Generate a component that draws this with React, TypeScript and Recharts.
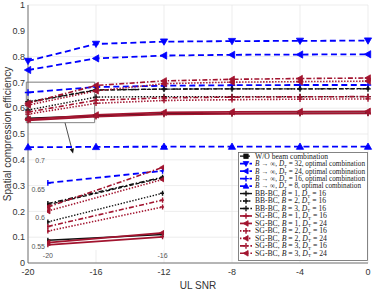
import React from 'react';
import { LineChart, Line, XAxis, YAxis, CartesianGrid, Legend, ReferenceArea, ReferenceLine } from 'recharts';

// ---------- data ----------
const snr = [-20, -16, -12, -8, -4, 0];
const snrTicks = [-20, -16, -12, -8, -4, 0];
const yTicks = [0, 0.1, 0.2, 0.3, 0.4, 0.5, 0.6, 0.7, 0.8, 0.9, 1];

const woBeam = [0.623, 0.670, 0.674, 0.675, 0.675, 0.676];
const opt32 = [0.783, 0.849, 0.858, 0.860, 0.861, 0.862];
const opt24 = [0.748, 0.793, 0.804, 0.807, 0.808, 0.809];
const opt16 = [0.661, 0.682, 0.687, 0.689, 0.690, 0.690];
const opt8 = [0.449, 0.450, 0.451, 0.451, 0.451, 0.451];
const bb1 = [0.561, 0.571, 0.579, 0.580, 0.581, 0.581];
const bb2 = [0.593, 0.643, 0.645, 0.645, 0.645, 0.645];
const bb3 = [0.625, 0.671, 0.674, 0.675, 0.675, 0.675];
const sg1d16 = [0.553, 0.567, 0.576, 0.578, 0.579, 0.580];
const sg1d24 = [0.557, 0.574, 0.584, 0.586, 0.587, 0.588];
const sg2d16 = [0.577, 0.619, 0.630, 0.633, 0.635, 0.636];
const sg2d24 = [0.612, 0.667, 0.695, 0.701, 0.703, 0.705];
const sg3d16 = [0.585, 0.631, 0.640, 0.643, 0.644, 0.645];
const sg3d24 = [0.619, 0.688, 0.706, 0.712, 0.715, 0.717];

const legendLabels = [
  'W/O beam combination',
  'B → ∞, D_T = 32, optimal combination',
  'B → ∞, D_T = 24, optimal combination',
  'B → ∞, D_T = 16, optimal combination',
  'B → ∞, D_T = 8, optimal combination',
  'BB-BC, B = 1, D_T = 16',
  'BB-BC, B = 2, D_T = 16',
  'BB-BC, B = 3, D_T = 16',
  'SG-BC, B = 1, D_T = 16',
  'SG-BC, B = 1, D_T = 24',
  'SG-BC, B = 2, D_T = 16',
  'SG-BC, B = 2, D_T = 24',
  'SG-BC, B = 3, D_T = 16',
  'SG-BC, B = 3, D_T = 24',
];
// rendered width of each legend label (px)
const legendWidths = [73, 110, 110, 110, 106, 71, 71, 71, 72, 72, 72, 72, 72, 72];

// zoom annotation (data coordinates)
const zoomX = [-20.1, -16.08];
const zoomY = [0.544, 0.701];
const arrowFrom = { x: -17.82, y: 0.543 };
const arrowTo = { x: -17.35, y: 0.424 };
const insetXDomain = [-20.03, -15.95];
const insetXTicks = [-20, -16];
const insetYTicks = [0.55, 0.6, 0.65, 0.7];

// ---------- styles ----------
const RED = '#A2142F';
const BLUE = '#0000FF';
const BLACK = '#111111';
const DASH = '6 3.5';
const DOT = '1.4 1.6';
const DASHDOT = '5 2 1.4 2';
const SERIF = "'Liberation Serif', 'DejaVu Serif', serif";
const SANS = "'Liberation Sans', Arial, sans-serif";

type Spec = {
  key: string; values: number[]; color: string; dash?: string; marker: string; width: number; ms: number;
};

const seriesValues = [woBeam, opt32, opt24, opt16, opt8, bb1, bb2, bb3, sg1d16, sg1d24, sg2d16, sg2d24, sg3d16, sg3d24];
const seriesStyle: Omit<Spec, 'key' | 'values'>[] = [
  { color: BLACK, dash: '4 2', marker: 'square', width: 1.3, ms: 1.0 },
  { color: BLUE, dash: DASH, marker: 'down', width: 1.8, ms: 3.6 },
  { color: BLUE, dash: DASH, marker: 'left', width: 1.8, ms: 3.6 },
  { color: BLUE, dash: DASH, marker: 'plus', width: 1.8, ms: 3.2 },
  { color: BLUE, dash: DASH, marker: 'up', width: 1.8, ms: 3.6 },
  { color: BLACK, marker: 'plus', width: 1.4, ms: 2.8 },
  { color: BLACK, dash: DOT, marker: 'plus', width: 1.4, ms: 2.8 },
  { color: BLACK, dash: DASHDOT, marker: 'plus', width: 1.4, ms: 2.8 },
  { color: RED, marker: 'plus', width: 1.7, ms: 2.8 },
  { color: RED, marker: 'left', width: 1.7, ms: 3.2 },
  { color: RED, dash: DOT, marker: 'plus', width: 1.6, ms: 2.8 },
  { color: RED, dash: DOT, marker: 'left', width: 1.6, ms: 3.2 },
  { color: RED, dash: DASHDOT, marker: 'plus', width: 1.6, ms: 2.8 },
  { color: RED, dash: DASHDOT, marker: 'left', width: 1.6, ms: 3.2 },
];
const series: Spec[] = seriesValues.map((v, i) => ({ key: 's' + i, values: v, ...seriesStyle[i] }));

const data = snr.map((x, i) => {
  const row: any = { snr: x };
  series.forEach((s) => { row[s.key] = s.values[i]; });
  return row;
});
const insetData = data.slice(0, 2);
const insetSeries = series.filter((s) => s.values.slice(0, 2).every((v) => v >= zoomY[0] && v <= zoomY[1]));

// ---------- markers ----------
function drawMarker(type: string, cx: number, cy: number, color: string, r: number) {
  if (type === 'plus') {
    return <path d={`M${cx - r},${cy}H${cx + r}M${cx},${cy - r}V${cy + r}`} stroke={color} strokeWidth={1.4} fill="none" />;
  }
  if (type === 'square') {
    return <rect x={cx - r} y={cy - r} width={2 * r} height={2 * r} fill={color} stroke={color} strokeWidth={0.8} />;
  }
  let pts: number[][] = [];
  if (type === 'down') pts = [[cx - r, cy - r * 0.75], [cx + r, cy - r * 0.75], [cx, cy + r]];
  if (type === 'up') pts = [[cx - r, cy + r * 0.75], [cx + r, cy + r * 0.75], [cx, cy - r]];
  if (type === 'left') pts = [[cx + r * 0.75, cy - r], [cx + r * 0.75, cy + r], [cx - r, cy]];
  return <polygon points={pts.map((p) => p.join(',')).join(' ')} fill={color} stroke={color} strokeWidth={0.8} strokeLinejoin="round" />;
}

const makeDot = (s: Spec, scale: number) => (p: any) => {
  const { cx, cy, index } = p;
  if (cx == null || cy == null) return <g key={`${s.key}-${index}`} />;
  return <g key={`${s.key}-${index}`}>{drawMarker(s.marker, cx, cy, s.color, s.ms * scale)}</g>;
};

// ---------- legend ----------
function renderLabel(str: string) {
  const parts = str.split(/(\bB\b|D_T)/).filter((p) => p !== '');
  const out: any[] = [];
  let pendingDy = 0;
  parts.forEach((p, i) => {
    if (p === 'B') {
      out.push(<tspan key={i} dy={pendingDy || undefined} fontStyle="italic">B</tspan>);
      pendingDy = 0;
    } else if (p === 'D_T') {
      out.push(<tspan key={i} dy={pendingDy || undefined} fontStyle="italic">D</tspan>);
      out.push(<tspan key={i + 's'} dy={1.6} fontSize={4.8}>T</tspan>);
      pendingDy = -1.6;
    } else {
      out.push(<tspan key={i} dy={pendingDy || undefined}>{p}</tspan>);
      pendingDy = 0;
    }
  });
  return out;
}

const LEG_W = 130;
const LEG_H = 109;
const ROW0 = 4.2;
const ROW_H = 7.47;

const LegendBox = () => (
  <svg width={LEG_W} height={LEG_H} style={{ display: 'block' }}>
    <rect x={0.5} y={0.5} width={LEG_W - 1} height={LEG_H - 1} fill="#fff" stroke="#666" strokeWidth={0.8} />
    {series.map((s, i) => {
      const cy = ROW0 + i * ROW_H;
      return (
        <g key={s.key}>
          <line x1={2} x2={14} y1={cy} y2={cy} stroke={s.color} strokeWidth={s.width} strokeDasharray={s.dash} />
          {drawMarker(s.marker, 8, cy, s.color, Math.min(Math.max(s.ms, 2.2), 2.8))}
          <text
            x={17} y={cy + 2.4} fontSize={7.4} style={{ fontFamily: SERIF }} fill="#222"
            textLength={legendWidths[i]} lengthAdjust="spacingAndGlyphs"
          >
            {renderLabel(legendLabels[i])}
          </text>
        </g>
      );
    })}
  </svg>
);

// ---------- arrow ----------
const ArrowShape = (p: any) => {
  const { x1, y1, x2, y2 } = p;
  if ([x1, y1, x2, y2].some((v) => v == null || isNaN(v))) return <g />;
  const ang = Math.atan2(y2 - y1, x2 - x1);
  const L = 5, W = 2.2;
  const bx = x2 - L * Math.cos(ang), by = y2 - L * Math.sin(ang);
  const px = -Math.sin(ang) * W, py = Math.cos(ang) * W;
  return (
    <g>
      <line x1={x1} y1={y1} x2={bx} y2={by} stroke="#222" strokeWidth={0.8} />
      <polygon points={`${x2},${y2} ${bx + px},${by + py} ${bx - px},${by - py}`} fill="#111" />
    </g>
  );
};

const tickStyle = { fontSize: 9, fill: '#333', fontFamily: SANS };
const insetTick = { fontSize: 7, fill: '#555', fontFamily: SANS };

export default function App() {
  return (
    <div style={{ position: 'absolute', left: 0, top: 0, width: 374, height: 292, background: '#fff' }}>
      <LineChart width={374} height={292} data={data} margin={{ top: 5, right: 6, bottom: 0, left: 0 }}>
        <CartesianGrid stroke="#e8e8e8" strokeWidth={0.8} />
        <XAxis
          dataKey="snr" type="number" domain={[-20, 0]} ticks={snrTicks} height={29}
          tickSize={0} tickMargin={6} tick={tickStyle} axisLine={{ stroke: '#555', strokeWidth: 0.8 }}
          label={{ value: 'UL SNR', position: 'insideBottom', offset: 3, fontSize: 10, fill: '#333', fontFamily: SANS }}
        />
        <YAxis
          type="number" domain={[0, 1]} ticks={yTicks} width={28} tickSize={0} tickMargin={3}
          tick={tickStyle} axisLine={{ stroke: '#555', strokeWidth: 0.8 }}
          label={{ value: 'Spatial compression efficiency', angle: -90, position: 'insideLeft', offset: 7, fontSize: 10, fill: '#333', style: { textAnchor: 'middle' }, fontFamily: SANS }}
        />
        <ReferenceArea fill="none" stroke="#555" strokeWidth={0.8} ifOverflow="visible" />
        <ReferenceArea x1={zoomX[0]} x2={zoomX[1]} y1={zoomY[0]} y2={zoomY[1]} fill="none" stroke="#777" strokeWidth={0.9} ifOverflow="visible" />
        <ReferenceLine segment={[arrowFrom, arrowTo]} shape={ArrowShape} ifOverflow="visible" />
        {series.map((s) => (
          <Line
            key={s.key} dataKey={s.key} stroke={s.color} strokeWidth={s.width} strokeDasharray={s.dash}
            dot={makeDot(s, 1)} activeDot={false} isAnimationActive={false} type="linear"
          />
        ))}
        <Legend
          layout="vertical" align="center" verticalAlign="middle"
          wrapperStyle={{ position: 'absolute', left: 238, top: 152, width: LEG_W, height: LEG_H, margin: 0, padding: 0 }}
          content={() => <LegendBox />}
        />
      </LineChart>
      <div style={{ position: 'absolute', left: 20, top: 155 }}>
        <LineChart width={150} height={111} data={insetData} margin={{ top: 5, right: 6, bottom: 0, left: 0 }}>
          <CartesianGrid fill="#fff" stroke="none" horizontal={false} vertical={false} />
          <ReferenceArea fill="#fff" fillOpacity={1} stroke="#888" strokeWidth={0.9} ifOverflow="visible" />
          <XAxis
            dataKey="snr" type="number" domain={insetXDomain} ticks={insetXTicks} allowDataOverflow height={16}
            tickSize={0} tickMargin={3} tick={insetTick} axisLine={false}
          />
          <YAxis
            type="number" domain={zoomY} ticks={insetYTicks} allowDataOverflow width={27}
            tickSize={0} tickMargin={2} tick={insetTick} axisLine={false}
          />
          {insetSeries.map((s) => (
            <Line
              key={s.key} dataKey={s.key} stroke={s.color} strokeWidth={s.width} strokeDasharray={s.dash}
              dot={makeDot(s, 0.9)} activeDot={false} isAnimationActive={false} type="linear"
            />
          ))}
        </LineChart>
      </div>
    </div>
  );
}
